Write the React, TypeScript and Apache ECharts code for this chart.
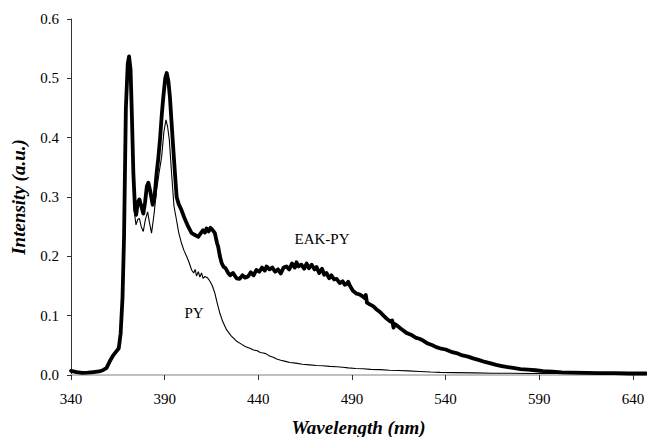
import React, { useEffect, useRef } from "react";
import * as echarts from "echarts";

const xTicks = [340, 390, 440, 490, 540, 590, 640];
const yTicks = [0, 0.1, 0.2, 0.3, 0.4, 0.5, 0.6];

const eakWavelength = [
  340, 343, 346, 349, 352, 355, 357, 359, 361, 362.5, 364, 365.5, 366.5, 367.5, 368.3, 369.3, 370.3, 371, 371.8, 372.4,
  373.3, 374.2, 374.8, 375.6, 376.5, 377.5, 378.6, 379.5, 380.5, 381.3, 382.3, 383.6, 384.6, 385.7, 386.6, 387.5, 388.5,
  389.3, 390.3, 391.1, 392, 392.8, 393.6, 394.3, 395.5, 396.4, 397.5, 399, 400.5, 402.6, 404.4, 406.2, 408, 409.5, 410.5,
  411.5, 412.4, 413.5, 414.5, 415.7, 416.8, 418, 418.6, 419.5, 420.4, 421.5, 422.5, 423.9, 425, 426.5, 428.4, 430, 431.5,
  433, 434.5, 436, 437.5, 439, 440.5, 442, 443.5, 444.4, 446, 447.5, 449, 450.5, 452, 453.5, 455, 456.5, 458, 459.5, 460.4,
  461.5, 463, 464.5, 465.8, 467, 468.5, 470, 471.1, 472.5, 474, 475.2, 476.4, 477.8, 479, 480.5, 481.8, 483.5, 485, 486.2,
  487.1, 488, 489, 490.5, 492.5, 494, 495.5, 496.6, 497.4, 498, 499.5, 501.3, 503, 505, 506.6, 508.5, 510.5, 511.5, 512.2,
  512.9, 514.5, 516.5, 519.1, 521.5, 524, 526, 528, 530.5, 533, 535, 537, 540, 543, 545.8, 549, 552, 554.7, 558, 561, 563.6,
  567, 570, 572.5, 576, 580, 584, 588, 592, 597, 602, 608, 615, 622, 630, 638, 647,
];
const eakIntensity = [
  0.007, 0.005, 0.0035, 0.004, 0.005, 0.006, 0.008, 0.012, 0.025, 0.033, 0.039, 0.045, 0.07, 0.13, 0.23, 0.45, 0.525, 0.537,
  0.515, 0.45, 0.34, 0.278, 0.27, 0.29, 0.296, 0.285, 0.272, 0.29, 0.318, 0.324, 0.31, 0.287, 0.3, 0.34, 0.365, 0.396, 0.44,
  0.469, 0.5, 0.509, 0.495, 0.469, 0.43, 0.396, 0.34, 0.3, 0.288, 0.278, 0.265, 0.25, 0.239, 0.236, 0.233, 0.24, 0.244, 0.24,
  0.247, 0.242, 0.248, 0.244, 0.239, 0.222, 0.216, 0.2, 0.189, 0.182, 0.18, 0.172, 0.168, 0.172, 0.163, 0.162, 0.168, 0.164,
  0.166, 0.173, 0.168, 0.177, 0.174, 0.181, 0.176, 0.183, 0.178, 0.181, 0.174, 0.178, 0.171, 0.181, 0.183, 0.178, 0.188,
  0.181, 0.19, 0.183, 0.186, 0.179, 0.188, 0.18, 0.186, 0.178, 0.182, 0.172, 0.179, 0.169, 0.172, 0.163, 0.168, 0.161, 0.162,
  0.155, 0.158, 0.152, 0.153, 0.157, 0.15, 0.142, 0.137, 0.136, 0.133, 0.13, 0.135, 0.122, 0.119, 0.116, 0.111, 0.106, 0.101,
  0.095, 0.09, 0.092, 0.08, 0.086, 0.082, 0.077, 0.071, 0.068, 0.063, 0.061, 0.058, 0.053, 0.05, 0.047, 0.045, 0.043, 0.039,
  0.037, 0.033, 0.031, 0.028, 0.025, 0.022, 0.02, 0.017, 0.015, 0.0135, 0.012, 0.01, 0.009, 0.008, 0.0065, 0.0055, 0.0045,
  0.004, 0.0035, 0.003, 0.003, 0.0025, 0.0025,
];

const pyWavelength = [
  340, 343, 346, 349, 352, 355, 357, 359, 361, 362.5, 364, 365.5, 366.5, 367.5, 368.3, 369.3, 370.3, 371, 371.8, 372.4,
  373.3, 374, 374.7, 375.6, 376.5, 377.5, 378.6, 379.7, 380.9, 382, 383, 384.3, 385.7, 387, 388.4, 389.6, 390.7, 391.6, 392.5,
  393.7, 395, 396.4, 397.5, 399, 400.3, 401.7, 403, 404.4, 405.5, 406.3, 407, 408, 408.8, 409.7, 410.5, 411.5, 412.8, 414.2,
  415.5, 416.8, 418, 419.5, 421, 423.1, 425.5, 428.4, 431, 433, 435.5, 437.5, 439.5, 441, 442.6, 444, 446, 448, 449.8, 452,
  454.5, 456.9, 460, 463.5, 467.5, 471, 474.5, 478.2, 482, 485, 488, 492, 496, 500, 505, 510, 515, 520, 526, 532, 537, 545,
  555, 565, 575, 585, 600, 620, 647,
];
const pyIntensity = [
  0.007, 0.005, 0.0035, 0.004, 0.005, 0.006, 0.008, 0.012, 0.025, 0.033, 0.039, 0.045, 0.07, 0.13, 0.23, 0.45, 0.525, 0.535,
  0.51, 0.44, 0.33, 0.27, 0.253, 0.262, 0.264, 0.25, 0.242, 0.262, 0.275, 0.255, 0.239, 0.27, 0.312, 0.34, 0.368, 0.41, 0.43,
  0.418, 0.396, 0.34, 0.284, 0.26, 0.24, 0.222, 0.21, 0.2, 0.19, 0.177, 0.172, 0.178, 0.167, 0.174, 0.165, 0.172, 0.163,
  0.166, 0.164, 0.158, 0.15, 0.138, 0.122, 0.104, 0.09, 0.076, 0.066, 0.057, 0.052, 0.048, 0.045, 0.042, 0.041, 0.038, 0.037,
  0.036, 0.032, 0.03, 0.027, 0.025, 0.023, 0.021, 0.02, 0.018, 0.017, 0.016, 0.0155, 0.0145, 0.014, 0.013, 0.012, 0.011,
  0.0105, 0.0095, 0.009, 0.008, 0.0075, 0.007, 0.006, 0.005, 0.0044, 0.004, 0.0035, 0.003, 0.003, 0.0025, 0.0025, 0.002,
  0.002,
];

const zip = (xs: number[], ys: number[]) => xs.map((x, i) => [x, ys[i]]);
const FONT = "'Liberation Serif', 'Times New Roman', serif";

export default function App() {
  const ref = useRef<HTMLDivElement>(null);
  useEffect(() => {
    if (!ref.current) return;
    const chart = echarts.init(ref.current, null, { renderer: "svg" });
    chart.setOption({
      animation: false,
      backgroundColor: "#ffffff",
      grid: { left: 71, top: 19, right: 1, bottom: 62, containLabel: false, outerBoundsMode: "none" },
      xAxis: {
        type: "value",
        min: 340,
        max: 647,
        interval: 50,
        name: "Wavelength (nm)",
        nameLocation: "middle",
        nameGap: 43,
        nameTextStyle: { fontFamily: FONT, fontSize: 19, fontWeight: "bold", fontStyle: "italic", color: "#000" },
        axisLine: { lineStyle: { color: "#c0c0c0", width: 2 } },
        axisTick: { show: true, length: 5, lineStyle: { color: "#333", width: 1 }, customValues: xTicks },
        axisLabel: { fontFamily: FONT, fontSize: 15, color: "#000", margin: 16, customValues: xTicks },
        splitLine: { show: false },
      },
      yAxis: {
        type: "value",
        min: 0,
        max: 0.6,
        interval: 0.1,
        name: "Intensity (a.u.)",
        nameLocation: "middle",
        nameGap: 43,
        nameTextStyle: { fontFamily: FONT, fontSize: 19, fontWeight: "bold", fontStyle: "italic", color: "#000" },
        axisLine: { show: true, lineStyle: { color: "#333", width: 1 } },
        axisTick: { show: true, length: 4, lineStyle: { color: "#333", width: 1 }, customValues: yTicks },
        axisLabel: {
          fontFamily: FONT,
          fontSize: 15,
          color: "#000",
          margin: 12,
          customValues: yTicks,
          formatter: (v: number) => v.toFixed(1),
        },
        splitLine: { show: false },
      },
      series: [
        {
          name: "PY",
          type: "line",
          data: zip(pyWavelength, pyIntensity),
          showSymbol: false,
          lineStyle: { color: "#000", width: 1.1 },
          z: 3,
        },
        {
          name: "EAK-PY",
          type: "line",
          data: zip(eakWavelength, eakIntensity),
          showSymbol: false,
          lineStyle: { color: "#000", width: 3.8, join: "round", cap: "round" },
          z: 2,
        },
      ],
      graphic: [
        {
          type: "text",
          x: 322,
          y: 239,
          style: { text: "EAK-PY", fontFamily: FONT, fontSize: 15, fill: "#000", align: "center", verticalAlign: "middle" },
        },
        {
          type: "text",
          x: 194,
          y: 313,
          style: { text: "PY", fontFamily: FONT, fontSize: 15, fill: "#000", align: "center", verticalAlign: "middle" },
        },
      ],
    });
    return () => chart.dispose();
  }, []);
  return <div ref={ref} style={{ width: 647, height: 437, position: "absolute", left: 0, top: 0 }} />;
}
